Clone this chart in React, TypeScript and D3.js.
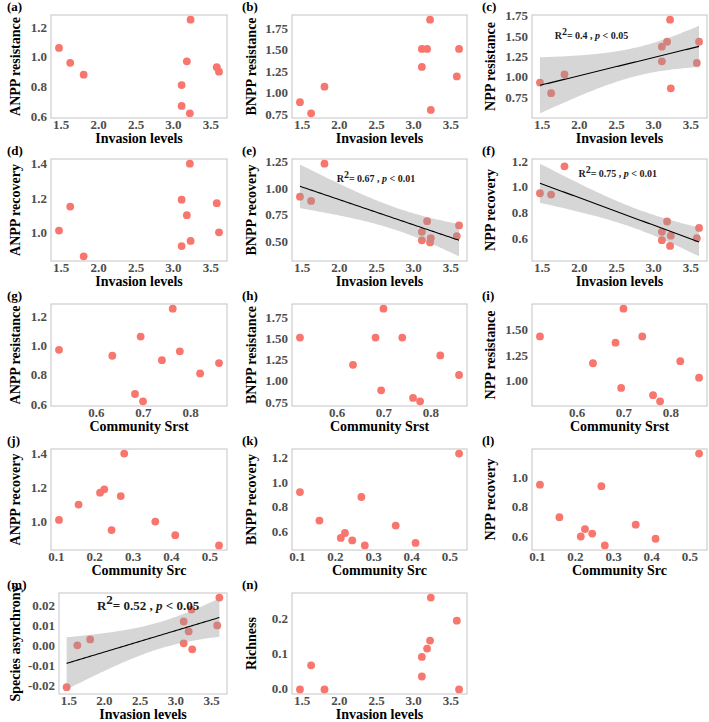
import { useEffect, useRef } from "react";
import * as d3 from "d3";

const WIDTH = 709;
const HEIGHT = 722;
const FONT = "'Liberation Serif', 'Times New Roman', Times, serif";
const POINT_COLOR = "#F8766D";
const TICK_COLOR = "#4D4D4D";
const BORDER_COLOR = "#C4C4C4";

// ten sites, same order in every array
const invasionLevels = [1.47, 1.62, 1.8, 3.11, 3.11, 3.18, 3.22, 3.23, 3.58, 3.61];
const communitySrst = [0.694, 0.777, 0.86, 0.82, 0.682, 0.521, 0.699, 0.762, 0.634, 0.739];
const communitySrc = [0.107, 0.268, 0.524, 0.225, 0.41, 0.158, 0.277, 0.244, 0.214, 0.358];

const anppResistance = [1.06, 0.96, 0.88, 0.81, 0.67, 0.97, 0.62, 1.25, 0.93, 0.9];
const bnppResistance = [0.89, 0.76, 1.07, 1.3, 1.51, 1.51, 1.85, 0.8, 1.19, 1.51];
const nppResistance = [0.93, 0.8, 1.03, 1.19, 1.37, 1.43, 1.7, 0.86, 1.17, 1.43];
const anppRecovery = [1.01, 1.15, 0.86, 1.19, 0.92, 1.1, 1.4, 0.95, 1.17, 1.0];
const bnppRecovery = [0.92, 0.88, 1.23, 0.59, 0.51, 0.69, 0.49, 0.53, 0.55, 0.65];
const nppRecovery = [0.95, 0.94, 1.16, 0.65, 0.585, 0.73, 0.54, 0.62, 0.6, 0.68];
const speciesAsynchrony = [-0.021, 0.0, 0.003, 0.012, 0.001, 0.007, 0.018, -0.002, 0.01, 0.024];
const richness = [-0.003, 0.066, -0.003, 0.034, 0.09, 0.114, 0.137, 0.26, 0.194, -0.003];

const invasionTicks = ["1.5", "2.0", "2.5", "3.0", "3.5"];
const srstTicks = ["0.6", "0.7", "0.8"];
const srcTicks = ["0.1", "0.2", "0.3", "0.4", "0.5"];

interface Fit {
  r2: string;
  p: string;
  at: [number, number]; // label centre as fraction of the panel
  size: number;
}

interface Panel {
  tag: string;
  x: number[];
  y: number[];
  xTitle: string;
  yTitle: string;
  xTicks: string[];
  yTicks: string[];
  fit?: Fit;
}

const panels: Panel[] = [
  { tag: "(a)", x: invasionLevels, y: anppResistance, xTitle: "Invasion levels", yTitle: "ANPP resistance", xTicks: invasionTicks, yTicks: ["0.6", "0.8", "1.0", "1.2"] },
  { tag: "(b)", x: invasionLevels, y: bnppResistance, xTitle: "Invasion levels", yTitle: "BNPP resistance", xTicks: invasionTicks, yTicks: ["0.75", "1.00", "1.25", "1.50", "1.75"] },
  { tag: "(c)", x: invasionLevels, y: nppResistance, xTitle: "Invasion levels", yTitle: "NPP resistance", xTicks: invasionTicks, yTicks: ["0.75", "1.00", "1.25", "1.50", "1.75"], fit: { r2: "0.4", p: "0.05", at: [0.34, 0.2], size: 10 } },
  { tag: "(d)", x: invasionLevels, y: anppRecovery, xTitle: "Invasion levels", yTitle: "ANPP recovery", xTicks: invasionTicks, yTicks: ["1.0", "1.2", "1.4"] },
  { tag: "(e)", x: invasionLevels, y: bnppRecovery, xTitle: "Invasion levels", yTitle: "BNPP recovery", xTicks: invasionTicks, yTicks: ["0.50", "0.75", "1.00", "1.25"], fit: { r2: "0.67", p: "0.01", at: [0.48, 0.19], size: 10 } },
  { tag: "(f)", x: invasionLevels, y: nppRecovery, xTitle: "Invasion levels", yTitle: "NPP recovery", xTicks: invasionTicks, yTicks: ["0.6", "0.8", "1.0", "1.2"], fit: { r2: "0.75", p: "0.01", at: [0.49, 0.14], size: 10 } },
  { tag: "(g)", x: communitySrst, y: anppResistance, xTitle: "Community Srst", yTitle: "ANPP resistance", xTicks: srstTicks, yTicks: ["0.6", "0.8", "1.0", "1.2"] },
  { tag: "(h)", x: communitySrst, y: bnppResistance, xTitle: "Community Srst", yTitle: "BNPP resistance", xTicks: srstTicks, yTicks: ["0.75", "1.00", "1.25", "1.50", "1.75"] },
  { tag: "(i)", x: communitySrst, y: nppResistance, xTitle: "Community Srst", yTitle: "NPP resistance", xTicks: srstTicks, yTicks: ["1.00", "1.25", "1.50"] },
  { tag: "(j)", x: communitySrc, y: anppRecovery, xTitle: "Community Src", yTitle: "ANPP recovery", xTicks: srcTicks, yTicks: ["1.0", "1.2", "1.4"] },
  { tag: "(k)", x: communitySrc, y: bnppRecovery, xTitle: "Community Src", yTitle: "BNPP recovery", xTicks: srcTicks, yTicks: ["0.6", "0.8", "1.0", "1.2"] },
  { tag: "(l)", x: communitySrc, y: nppRecovery, xTitle: "Community Src", yTitle: "NPP recovery", xTicks: srcTicks, yTicks: ["0.6", "0.8", "1.0"] },
  { tag: "(m)", x: invasionLevels, y: speciesAsynchrony, xTitle: "Invasion levels", yTitle: "Species asynchrony", xTicks: invasionTicks, yTicks: ["-0.02", "-0.01", "0.00", "0.01", "0.02"], fit: { r2: "0.52", p: "0.05", at: [0.53, 0.12], size: 13 } },
  { tag: "(n)", x: invasionLevels, y: richness, xTitle: "Invasion levels", yTitle: "Richness", xTicks: invasionTicks, yTicks: ["0.0", "0.1", "0.2"] },
];

// grid geometry
const colLeft = [51, 292, 532];
const colRight = [227, 467, 707];
const colYTitle = [15, 251, 490];
const colTag = [7, 242, 482];
const rowTop = [15, 159, 304, 449, 593];
const rowBottom = [118, 261, 406, 550, 694];

const T_CRIT = 2.306; // t(0.975, df = 8)

function linearFit(xs: number[], ys: number[]) {
  const n = xs.length;
  const mx = d3.mean(xs)!;
  const my = d3.mean(ys)!;
  const sxx = d3.sum(xs, (x) => (x - mx) ** 2);
  const sxy = d3.sum(xs, (x, i) => (x - mx) * (ys[i] - my));
  const b = sxy / sxx;
  const a = my - b * mx;
  const sse = d3.sum(xs, (x, i) => (ys[i] - (a + b * x)) ** 2);
  const s = Math.sqrt(sse / (n - 2));
  const [x0, x1] = d3.extent(xs) as [number, number];
  return d3.range(80).map((k) => {
    const x = x0 + ((x1 - x0) * k) / 79;
    const fit = a + b * x;
    const se = s * Math.sqrt(1 / n + (x - mx) ** 2 / sxx);
    return { x, fit, lo: fit - T_CRIT * se, hi: fit + T_CRIT * se };
  });
}

function expand([lo, hi]: [number, number]): [number, number] {
  const pad = (hi - lo) * 0.05;
  return [lo - pad, hi + pad];
}

const App = () => {
  const svgRef = useRef<SVGSVGElement>(null);

  useEffect(() => {
    if (!svgRef.current) return;
    const svg = d3.select(svgRef.current);
    svg.selectAll("*").remove();

    panels.forEach((p, idx) => {
      const col = idx % 3;
      const row = Math.floor(idx / 3);
      const left = p.tag === "(m)" ? 59 : colLeft[col];
      const right = colRight[col];
      const top = rowTop[row];
      const bottom = rowBottom[row];

      const band = p.fit ? linearFit(p.x, p.y) : [];
      const yVals = [...p.y, ...band.map((d) => d.lo), ...band.map((d) => d.hi)];

      const x = d3.scaleLinear().domain(expand(d3.extent(p.x) as [number, number])).range([left, right]);
      const y = d3.scaleLinear().domain(expand(d3.extent(yVals) as [number, number])).range([bottom, top]);

      const g = svg.append("g");

      // panel frame
      g.append("rect")
        .attr("x", left)
        .attr("y", top)
        .attr("width", right - left)
        .attr("height", bottom - top)
        .attr("fill", "#fff")
        .attr("stroke", BORDER_COLOR)
        .attr("stroke-width", 1);

      // points
      g.append("g")
        .selectAll("circle")
        .data(p.x.map((xv, i) => [xv, p.y[i]]))
        .join("circle")
        .attr("cx", (d) => x(d[0]))
        .attr("cy", (d) => y(d[1]))
        .attr("r", 3.9)
        .attr("fill", POINT_COLOR);

      // regression line and confidence band
      if (p.fit) {
        const area = d3
          .area<{ x: number; lo: number; hi: number }>()
          .x((d) => x(d.x))
          .y0((d) => y(d.lo))
          .y1((d) => y(d.hi));
        g.append("path").attr("d", area(band)).attr("fill", "#999999").attr("fill-opacity", 0.4);

        const line = d3
          .line<{ x: number; fit: number }>()
          .x((d) => x(d.x))
          .y((d) => y(d.fit));
        g.append("path").attr("d", line(band)).attr("fill", "none").attr("stroke", "#000").attr("stroke-width", 1.1);

        const fs = p.fit.size;
        const t = g
          .append("text")
          .attr("x", left + (right - left) * p.fit.at[0])
          .attr("y", top + (bottom - top) * p.fit.at[1] + fs * 0.35)
          .attr("text-anchor", "middle")
          .attr("font-family", FONT)
          .attr("font-weight", "bold")
          .attr("font-size", fs)
          .attr("fill", "#1a1a1a");
        t.append("tspan").text("R");
        t.append("tspan").attr("dy", -fs * 0.4).text("2");
        t.append("tspan").attr("dy", fs * 0.4).text(`= ${p.fit.r2} ,  `);
        t.append("tspan").attr("font-style", "italic").text("p");
        t.append("tspan").text(` < ${p.fit.p}`);
      }

      // tick labels
      g.append("g")
        .selectAll("text")
        .data(p.yTicks)
        .join("text")
        .attr("x", left - 4)
        .attr("y", (d) => y(+d))
        .attr("dy", "0.35em")
        .attr("text-anchor", "end")
        .attr("font-family", FONT)
        .attr("font-weight", "bold")
        .attr("font-size", 13)
        .attr("fill", TICK_COLOR)
        .text((d) => d);

      g.append("g")
        .selectAll("text")
        .data(p.xTicks)
        .join("text")
        .attr("x", (d) => x(+d))
        .attr("y", bottom + 11)
        .attr("text-anchor", "middle")
        .attr("font-family", FONT)
        .attr("font-weight", "bold")
        .attr("font-size", 13)
        .attr("fill", TICK_COLOR)
        .text((d) => d);

      // axis titles
      g.append("text")
        .attr("x", (left + right) / 2)
        .attr("y", bottom + 24.5)
        .attr("text-anchor", "middle")
        .attr("font-family", FONT)
        .attr("font-weight", "bold")
        .attr("font-size", 14)
        .attr("fill", "#000")
        .text(p.xTitle);

      g.append("text")
        .attr("transform", `translate(${colYTitle[col]},${(top + bottom) / 2}) rotate(-90)`)
        .attr("dy", "0.35em")
        .attr("text-anchor", "middle")
        .attr("font-family", FONT)
        .attr("font-weight", "bold")
        .attr("font-size", 14)
        .attr("fill", "#000")
        .text(p.yTitle);

      // panel tag
      g.append("text")
        .attr("x", colTag[col])
        .attr("y", top - 4)
        .attr("font-family", FONT)
        .attr("font-weight", "bold")
        .attr("font-size", 13)
        .attr("fill", "#000")
        .text(p.tag);
    });
  }, []);

  return (
    <svg
      ref={svgRef}
      width={WIDTH}
      height={HEIGHT}
      style={{ position: "absolute", left: 0, top: 0, background: "#fff" }}
    />
  );
};

export default App;
